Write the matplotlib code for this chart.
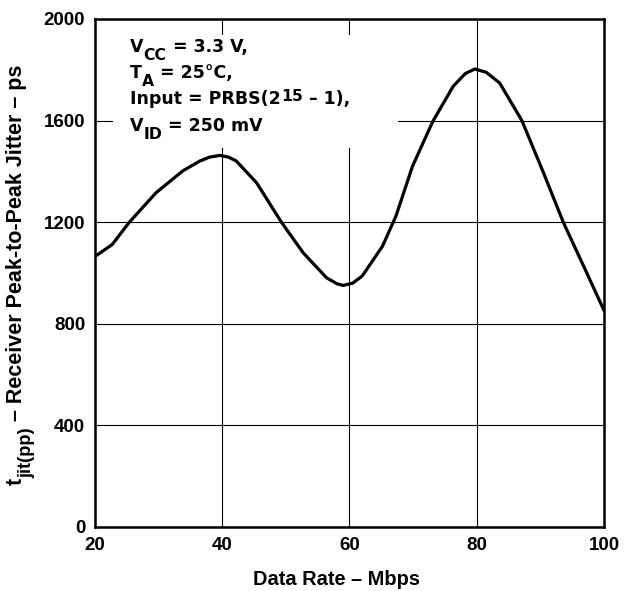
import matplotlib
matplotlib.use("Agg")
import matplotlib.pyplot as plt
from matplotlib.patches import Rectangle

plt.rcParams['font.family'] = ['Liberation Sans', 'DejaVu Sans']
plt.rcParams['font.weight'] = 'bold'

# data
rate = [20, 22.7, 25.4, 29.6, 33.8, 36.5, 38.0, 39.6, 41.0, 42.2, 45.4, 49.3,
        52.7, 56.4, 58.0, 59.0, 60.5, 62.0, 65.2, 67.3, 69.9, 73.1, 76.3,
        78.2, 79.7, 81.5, 83.6, 87.1, 90.5, 93.6, 96.8, 100]
jitter = [1065, 1112, 1200, 1316, 1402, 1441, 1456, 1463, 1456, 1441, 1355, 1200,
          1080, 981, 958, 951, 960, 988, 1106, 1224, 1420, 1597, 1735,
          1785, 1803, 1790, 1748, 1600, 1394, 1200, 1027, 853]

xticks = [20, 40, 60, 80, 100]
yticks = [0, 400, 800, 1200, 1600, 2000]


def chain(ax, x, y, parts, size, family, transform):
    # parts: (text, shift in points, size scale); shifts are upward
    first = ax.text(x, y, parts[0][0], transform=transform, fontsize=size,
                    family=family, fontweight='bold', va='bottom', ha='left',
                    zorder=3)
    prev = first
    for s, dy, sc in parts[1:]:
        prev = ax.annotate(s, xy=(1, 0), xycoords=(prev, first),
                           xytext=(0, dy), textcoords='offset points',
                           fontsize=size * sc, family=family, fontweight='bold',
                           va='bottom', ha='left', zorder=3)


fig = plt.figure(figsize=(6.3, 5.91), dpi=100)
ax = fig.add_axes([0.1508, 0.1083, 0.8079, 0.8596])

ax.plot(rate, jitter, color='black', lw=2.3, zorder=4)

ax.set_xlim(20, 100)
ax.set_ylim(0, 2000)
ax.set_xticks(xticks)
ax.set_yticks(yticks)
ax.tick_params(length=0, labelsize=13.5, pad=7)
ax.grid(True, color='black', lw=0.8)
ax.set_axisbelow(True)
for s in ax.spines.values():
    s.set_linewidth(1.8)

# white area behind the conditions text
ax.add_patch(Rectangle((0.035, 0.746), 0.56, 0.223, transform=ax.transAxes,
                       facecolor='white', edgecolor='none', zorder=2))

box_font = ['DejaVu Sans']
box_size = 12.5
rows = [
    [('V', 0, 1), ('CC', -5, 0.9), (' = 3.3 V,', 0, 1)],
    [('T', 0, 1), ('A', -5, 0.9), (' = 25°C,', 0, 1)],
    [('Input = PRBS(2', 0, 1), ('15', 3, 0.9), (' – 1),', 0, 1)],
    [('V', 0, 1), ('ID', -5, 0.9), (' = 250 mV', 0, 1)],
]
row_y = [0.927, 0.876, 0.825, 0.771]
for parts, yy in zip(rows, row_y):
    chain(ax, 0.069, yy, parts, box_size, box_font, ax.transAxes)

ax.set_xlabel('Data Rate – Mbps', fontsize=14.4, fontweight='bold')
ax.xaxis.set_label_coords(0.474, -0.085)

# y label built from pieces so the subscript stays large
lab_size = 15.5
t0 = ax.text(-0.134, 0.083, 't', transform=ax.transAxes, rotation=90,
             fontsize=lab_size, fontweight='bold', ha='right', va='bottom')
t1 = ax.annotate('jit(pp)', xy=(1, 1), xycoords=(t0, t0), xytext=(6, 0),
                 textcoords='offset points', rotation=90,
                 fontsize=lab_size * 0.85, fontweight='bold',
                 ha='right', va='bottom', annotation_clip=False)
ax.annotate(' – Receiver Peak-to-Peak Jitter – ps', xy=(1, 1),
            xycoords=(t0, t1), rotation=90, fontsize=lab_size,
            fontweight='bold', ha='right', va='bottom', annotation_clip=False)

fig.savefig('out.png', dpi=100)
